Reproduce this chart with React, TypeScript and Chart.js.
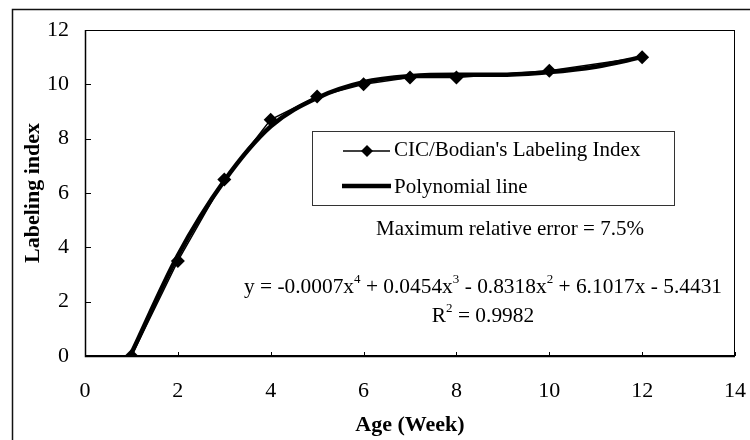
import { useEffect, useRef } from "react";
import { Chart, registerables } from "chart.js";

Chart.register(...registerables);

const weeks = [1, 2, 3, 4, 5, 6, 7, 8, 10, 12];
const labelingIndex = [0, 3.5, 6.5, 8.7, 9.55, 10.0, 10.25, 10.25, 10.5, 11.0];
const polyWeeks = [1, 2, 3, 4, 5, 6, 7, 8, 9, 10, 11, 12];
const polyValues = [0.1, 3.7, 6.45, 8.45, 9.5, 10.08, 10.3, 10.35, 10.35, 10.45, 10.65, 11.0];
const xTicks = [0, 2, 4, 6, 8, 10, 12, 14];
const yTicks = [0, 2, 4, 6, 8, 10, 12];
const seriesNames = ["CIC/Bodian's Labeling Index", "Polynomial line"];
const xTitle = "Age (Week)";
const yTitle = "Labeling index";
const errorNote = "Maximum relative error = 7.5%";
const equationParts: [string, boolean][] = [
  ["y = -0.0007x", false],
  ["4", true],
  [" + 0.0454x", false],
  ["3", true],
  [" - 0.8318x", false],
  ["2", true],
  [" + 6.1017x - 5.4431", false],
];
const r2Parts: [string, boolean][] = [
  ["R", false],
  ["2", true],
  [" = 0.9982", false],
];

const FONT = '"Liberation Serif", "Times New Roman", serif';

function drawParts(ctx: CanvasRenderingContext2D, parts: [string, boolean][], cx: number, cy: number, size: number) {
  const main = `${size}px ${FONT}`;
  const sup = `${Math.round(size * 0.62)}px ${FONT}`;
  let total = 0;
  for (const [t, s] of parts) {
    ctx.font = s ? sup : main;
    total += ctx.measureText(t).width;
  }
  let x = cx - total / 2;
  ctx.textAlign = "left";
  ctx.textBaseline = "middle";
  for (const [t, s] of parts) {
    ctx.font = s ? sup : main;
    ctx.fillText(t, x, s ? cy - size * 0.35 : cy);
    x += ctx.measureText(t).width;
  }
}

const decorPlugin = {
  id: "decor",
  beforeDraw(chart: any) {
    const ctx = chart.ctx as CanvasRenderingContext2D;
    ctx.save();
    ctx.fillStyle = "#ffffff";
    ctx.fillRect(0, 0, chart.width, chart.height);
    ctx.strokeStyle = "#111";
    ctx.lineWidth = 1.5;
    ctx.beginPath();
    ctx.moveTo(12.5, chart.height);
    ctx.lineTo(12.5, 9.5);
    ctx.lineTo(chart.width, 9.5);
    ctx.stroke();
    ctx.restore();
  },
  afterDraw(chart: any) {
    const ctx = chart.ctx as CanvasRenderingContext2D;
    const { left, right, top, bottom } = chart.chartArea;
    const xs = chart.scales.x;
    const ys = chart.scales.y;
    ctx.save();
    ctx.strokeStyle = "#000";
    ctx.lineWidth = 1;
    ctx.strokeRect(left + 0.5, top + 0.5, right - left - 1, bottom - top - 1);
    ctx.lineWidth = 1.5;
    ctx.beginPath();
    ctx.moveTo(left + 0.5, top);
    ctx.lineTo(left + 0.5, bottom + 0.5);
    ctx.lineTo(right, bottom + 0.5);
    ctx.stroke();
    ctx.lineWidth = 1;
    ctx.beginPath();
    for (const v of yTicks) {
      const y = Math.round(ys.getPixelForValue(v)) + 0.5;
      ctx.moveTo(left, y);
      ctx.lineTo(left + 6, y);
    }
    for (const v of xTicks) {
      const x = Math.round(xs.getPixelForValue(v)) + 0.5;
      ctx.moveTo(x, bottom);
      ctx.lineTo(x, bottom - 4);
    }
    ctx.stroke();

    // legend box
    ctx.strokeStyle = "#333";
    ctx.lineWidth = 1;
    ctx.strokeRect(312.5, 131.5, 362, 74);
    ctx.fillStyle = "#000";
    ctx.strokeStyle = "#000";
    ctx.lineWidth = 1.5;
    ctx.beginPath();
    ctx.moveTo(343, 151);
    ctx.lineTo(390, 151);
    ctx.stroke();
    ctx.beginPath();
    ctx.moveTo(367, 145);
    ctx.lineTo(373, 151);
    ctx.lineTo(367, 157);
    ctx.lineTo(361, 151);
    ctx.closePath();
    ctx.fill();
    ctx.lineWidth = 4.5;
    ctx.beginPath();
    ctx.moveTo(342, 186);
    ctx.lineTo(391, 186);
    ctx.stroke();
    ctx.font = `21px ${FONT}`;
    ctx.textAlign = "left";
    ctx.textBaseline = "middle";
    ctx.fillText(seriesNames[0], 394, 150);
    ctx.fillText(seriesNames[1], 394, 187);

    ctx.textAlign = "center";
    ctx.fillText(errorNote, 510, 229);
    drawParts(ctx, equationParts, 483, 287, 21.4);
    drawParts(ctx, r2Parts, 483, 316, 21.4);
    ctx.restore();
  },
};

export default function App() {
  const ref = useRef<HTMLCanvasElement | null>(null);
  useEffect(() => {
    if (!ref.current) return;
    const chart = new Chart(ref.current, {
      type: "scatter",
      data: {
        datasets: [
          {
            label: seriesNames[0],
            data: weeks.map((w, i) => ({ x: w, y: labelingIndex[i] })),
            showLine: true,
            borderColor: "#000",
            backgroundColor: "#000",
            borderWidth: 1.5,
            pointStyle: "rectRot",
            pointRadius: 7,
            pointBorderWidth: 0,
            tension: 0,
          },
          {
            label: seriesNames[1],
            data: polyWeeks.map((w, i) => ({ x: w, y: polyValues[i] })),
            showLine: true,
            borderColor: "#000",
            backgroundColor: "#000",
            borderWidth: 4.5,
            pointRadius: 0,
            cubicInterpolationMode: "monotone",
          },
        ],
      },
      options: {
        responsive: false,
        animation: false,
        layout: { padding: { left: 0, right: 15, top: 30, bottom: 0 } },
        plugins: { legend: { display: false }, tooltip: { enabled: false } },
        scales: {
          x: {
            type: "linear",
            min: 0,
            max: 14,
            afterBuildTicks: (s: any) => {
              s.ticks = xTicks.map((v) => ({ value: v }));
            },
            afterFit: (s: any) => {
              s.height = 84;
              s.paddingLeft = 0;
              s.paddingRight = 0;
            },
            grid: { display: false, drawTicks: false },
            border: { display: false },
            ticks: {
              color: "#000",
              padding: 22,
              maxRotation: 0,
              font: { family: FONT, size: 22 },
            },
            title: {
              display: true,
              text: xTitle,
              color: "#000",
              font: { family: FONT, size: 22, weight: "bold" },
              padding: { top: 0, bottom: 1 },
            },
          },
          y: {
            type: "linear",
            min: 0,
            max: 12,
            afterBuildTicks: (s: any) => {
              s.ticks = yTicks.map((v) => ({ value: v }));
            },
            afterFit: (s: any) => {
              s.width = 85;
              s.paddingTop = 0;
              s.paddingBottom = 0;
            },
            grid: { display: false, drawTicks: false },
            border: { display: false },
            ticks: {
              color: "#000",
              padding: 16,
              font: { family: FONT, size: 22 },
            },
            title: {
              display: true,
              text: yTitle,
              color: "#000",
              font: { family: FONT, size: 22, weight: "bold" },
              padding: { top: 20, bottom: 0 },
            },
          },
        },
      },
      plugins: [decorPlugin],
    } as any);
    return () => chart.destroy();
  }, []);
  return (
    <div style={{ position: "absolute", left: 0, top: 0, width: 750, height: 440 }}>
      <canvas ref={ref} width={750} height={440} style={{ display: "block" }} />
    </div>
  );
}
